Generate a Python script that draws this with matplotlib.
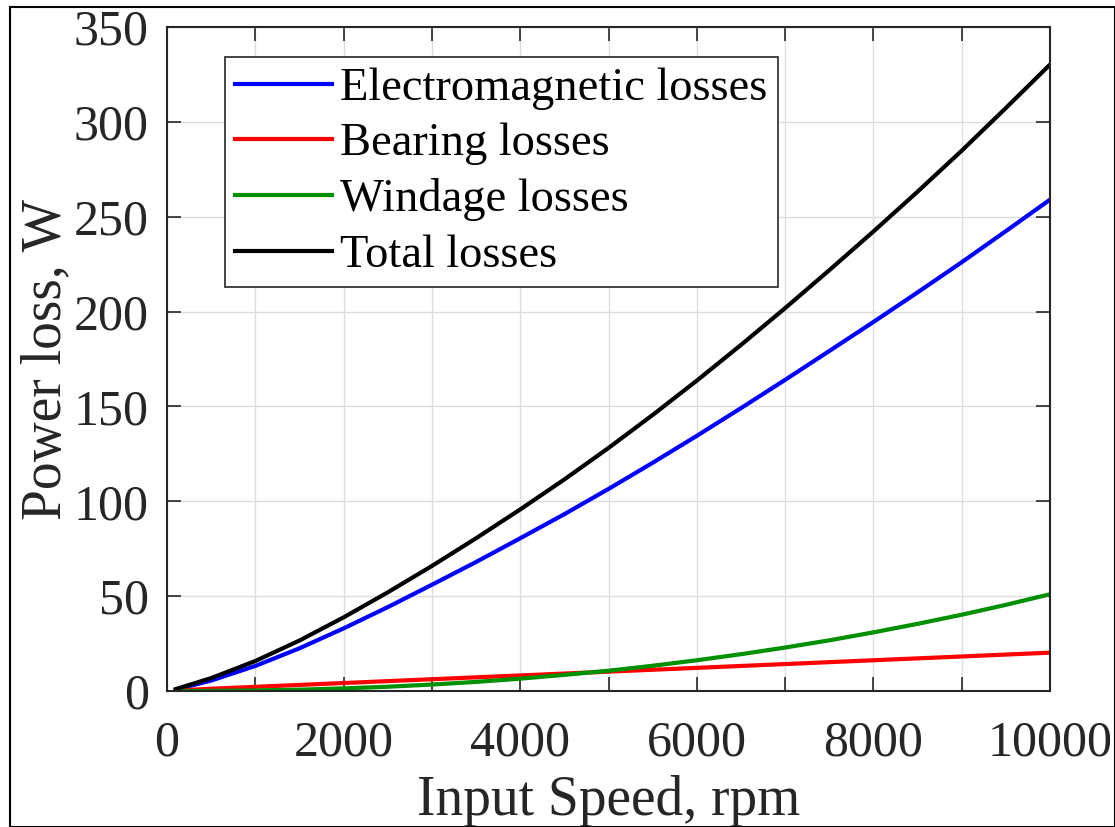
import numpy as np
import matplotlib.pyplot as plt
from matplotlib.patches import Rectangle

# input speed, rpm
speed = [100, 500, 1000, 1500, 2000, 2500, 3000, 3500, 4000, 4500, 5000,
         5500, 6000, 6500, 7000, 7500, 8000, 8500, 9000, 9500, 10000]
# power losses, W
em_loss = [0.8, 5.5, 13.2, 22.5, 33.0, 44.2, 56.0, 68.0, 80.5, 93.2, 106.5,
           120.3, 134.5, 149.1, 164.0, 179.2, 194.5, 210.1, 226.0, 242.4, 259.0]
bearing_loss = [0.2, 1.2, 2.2, 3.2, 4.2, 5.2, 6.2, 7.2, 8.2, 9.2, 10.2,
                11.2, 12.2, 13.2, 14.2, 15.2, 16.2, 17.2, 18.2, 19.2, 20.2]
windage_loss = [0.0, 0.06, 0.29, 0.71, 1.37, 2.25, 3.4, 4.8, 6.5, 8.5, 10.7,
                13.3, 16.2, 19.4, 22.9, 26.7, 30.9, 35.4, 40.2, 45.4, 51.0]
total_loss = [1.0, 6.8, 15.8, 26.6, 38.8, 52.0, 65.9, 80.5, 95.7, 111.5, 128.1,
              145.5, 163.6, 182.4, 201.8, 221.8, 242.2, 263.2, 284.8, 307.3, 330.2]

labels = ['Electromagnetic losses', 'Bearing losses', 'Windage losses', 'Total losses']
colors = ['#0000ff', '#ff0000', '#009000', '#000000']

plt.rcParams['font.family'] = ['Liberation Serif', 'DejaVu Serif']

W, H = 1115, 827
fig = plt.figure(figsize=(W / 100, H / 100), dpi=100)
ax = fig.add_axes([167 / W, 1 - 691 / H, (1050 - 167) / W, (691 - 27) / H])

for ys, lab, c in zip([em_loss, bearing_loss, windage_loss, total_loss], labels, colors):
    ax.plot(speed, ys, color=c, lw=3, label=lab, solid_joinstyle='round')

ax.set_xlim(0, 10000)
ax.set_ylim(0, 350)
ax.set_xticks(np.arange(0, 10001, 2000))
ax.set_xticks(np.arange(0, 10001, 1000), minor=True)
ax.set_yticks(np.arange(0, 351, 50))
ax.grid(True, which='both', axis='x', color='#dcdcdc', lw=1)
ax.grid(True, which='major', axis='y', color='#dcdcdc', lw=1)
ax.set_axisbelow(True)
ax.tick_params(which='both', direction='in', top=True, right=True,
               length=10, width=1.2, colors='#262626', labelsize=36, labelcolor='#262626')
ax.tick_params(axis='x', which='major', pad=21)
ax.tick_params(axis='y', which='major', pad=13)
for s in ax.spines.values():
    s.set_color('#262626')
    s.set_linewidth(1.5)

ax.set_xlabel('Input Speed, rpm', fontsize=40, color='#262626', labelpad=6)
ax.set_ylabel('Power loss, W', fontsize=40, color='#262626', labelpad=1)

leg = ax.legend(loc='upper left', bbox_to_anchor=(0.0657, 0.9548), fontsize=33.5,
                handlelength=2.09, handletextpad=0.17, borderpad=0.22, labelspacing=0.28,
                borderaxespad=0, fancybox=False, framealpha=1, edgecolor='#262626')
leg.get_frame().set_linewidth(1.2)

fig.patches.append(Rectangle((10 / W, 0.5 / H), 1 - 10.5 / W, 1 - 7.5 / H, transform=fig.transFigure,
                             fill=False, edgecolor='black', lw=1.5))

fig.savefig('out.png', dpi=100)
